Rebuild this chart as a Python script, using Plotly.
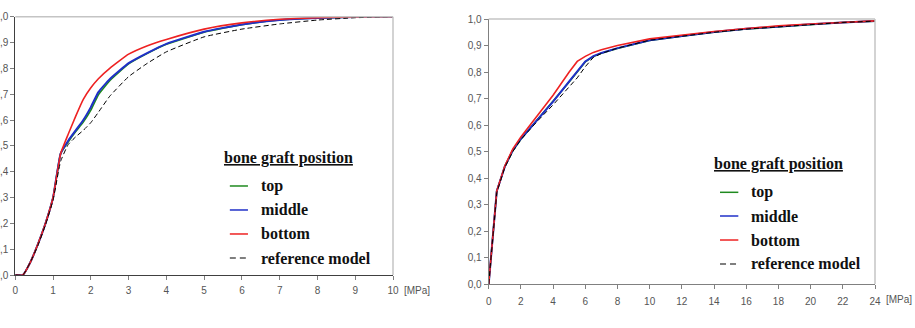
import plotly.graph_objects as go

# ---------------- data ----------------
x_left = [0, 0.2, 0.4, 0.6, 0.8, 1.0, 1.2, 1.4, 1.6, 1.8, 2.0, 2.2, 2.5, 3.0, 3.5, 4.0, 5.0, 6.0, 7.0, 8.0, 9.0, 10.0]
left_top = [0, 0, 0.05, 0.12, 0.2, 0.3, 0.47, 0.515, 0.555, 0.592, 0.638, 0.698, 0.752, 0.817, 0.858, 0.893, 0.94, 0.969, 0.987, 0.995, 0.999, 1.0]
left_middle = [0, 0, 0.05, 0.12, 0.2, 0.3, 0.47, 0.52, 0.56, 0.6, 0.65, 0.708, 0.758, 0.82, 0.86, 0.895, 0.942, 0.97, 0.987, 0.995, 0.999, 1.0]
left_bottom = [0, 0, 0.05, 0.12, 0.2, 0.3, 0.47, 0.545, 0.615, 0.68, 0.725, 0.76, 0.8, 0.855, 0.888, 0.912, 0.952, 0.976, 0.99, 0.996, 0.999, 1.0]
left_ref = [0, 0, 0.05, 0.115, 0.195, 0.29, 0.44, 0.505, 0.535, 0.56, 0.59, 0.63, 0.692, 0.768, 0.82, 0.864, 0.922, 0.952, 0.972, 0.987, 0.996, 1.0]

x_right = [0, 0.5, 1, 1.5, 2, 3, 4, 5, 5.5, 6, 6.5, 7, 8, 10, 12, 14, 16, 18, 20, 22, 24]
right_top = [0, 0.35, 0.443, 0.503, 0.546, 0.618, 0.686, 0.762, 0.8, 0.838, 0.858, 0.871, 0.889, 0.919, 0.935, 0.95, 0.962, 0.971, 0.98, 0.987, 0.992]
right_middle = [0, 0.35, 0.443, 0.505, 0.548, 0.62, 0.688, 0.765, 0.802, 0.84, 0.86, 0.872, 0.89, 0.92, 0.936, 0.951, 0.963, 0.972, 0.98, 0.987, 0.992]
right_bottom = [0, 0.35, 0.445, 0.51, 0.555, 0.632, 0.712, 0.8, 0.84, 0.859, 0.874, 0.884, 0.9, 0.925, 0.94, 0.953, 0.964, 0.974, 0.981, 0.987, 0.993]
right_ref = [0, 0.345, 0.44, 0.5, 0.545, 0.613, 0.676, 0.745, 0.778, 0.82, 0.855, 0.87, 0.89, 0.92, 0.935, 0.95, 0.962, 0.971, 0.98, 0.987, 0.992]

series_names = ["top", "middle", "bottom", "reference model"]
series_colors = ["#1f8a1f", "#2030c8", "#ee2222", "#000000"]
series_dash = ["solid", "solid", "solid", "dash"]
series_width = [1.6, 2.0, 1.6, 1.0]
legend_title = "bone graft position"
unit_label = "[MPa]"

left_sets = [left_top, left_middle, left_bottom, left_ref]
right_sets = [right_top, right_middle, right_bottom, right_ref]

# ---------------- figure ----------------
fig = go.Figure()
W, H = 915, 328

for ys, name, col, dash, w in zip(left_sets, series_names, series_colors, series_dash, series_width):
    fig.add_trace(go.Scatter(x=x_left, y=ys, mode="lines", name=name, showlegend=False,
                             line=dict(color=col, width=w, dash=dash if dash == "solid" else "5px,3px",
                                       shape="spline", smoothing=0.4),
                             xaxis="x", yaxis="y"))
for ys, name, col, dash, w in zip(right_sets, series_names, series_colors, series_dash, series_width):
    fig.add_trace(go.Scatter(x=x_right, y=ys, mode="lines", name=name, showlegend=False,
                             line=dict(color=col, width=w, dash=dash if dash == "solid" else "5px,3px"),
                             xaxis="x2", yaxis="y2"))

def px2dom(x0, x1, y0, y1):
    return [x0 / W, x1 / W], [1 - y1 / H, 1 - y0 / H]

# plot-area pixel boxes (left, right, top, bottom)
Lx, Ly = px2dom(15.3, 393, 16.7, 275)
Rx, Ry = px2dom(488.7, 875, 19, 284)

tickfont = dict(family="Liberation Sans, Arial", size=10, color="#555555")
axcommon = dict(showgrid=False, zeroline=False, ticks="outside", ticklen=4, tickcolor="#808080",
                linewidth=1, showline=True, tickfont=tickfont, automargin=False)

fig.update_layout(
    width=W, height=H, margin=dict(l=0, r=0, t=0, b=0),
    paper_bgcolor="white", plot_bgcolor="white",
    separators=", ",
    showlegend=False,
    xaxis=dict(domain=Lx, anchor="y", range=[0, 10], dtick=1, tick0=0, linecolor="#404040", **axcommon, ticklabelstandoff=2),
    yaxis=dict(domain=Ly, anchor="x", range=[0, 1.0], dtick=0.1, tick0=0, tickformat=".1f", linecolor="#404040", **axcommon),
    xaxis2=dict(domain=Rx, anchor="y2", range=[0, 24], dtick=2, tick0=0, linecolor="#808080", **axcommon, ticklabelstandoff=4),
    yaxis2=dict(domain=Ry, anchor="x2", range=[0, 1.0], dtick=0.1, tick0=0, tickformat=".1f", linecolor="#808080", **axcommon),
)

# light-gray top/right frame borders
for xr, yr in [("x domain", "y domain"), ("x2 domain", "y2 domain")]:
    fig.add_shape(type="line", xref=xr, yref=yr, x0=0, x1=1, y0=1, y1=1, line=dict(color="#c4c4c4", width=1.5))
    fig.add_shape(type="line", xref=xr, yref=yr, x0=1, x1=1, y0=0, y1=1, line=dict(color="#c4c4c4", width=1.5))

# legends drawn inside each plot
serif = dict(family="Liberation Serif, Times New Roman", size=16, color="#111111")
legend_specs = [
    dict(xr="x domain", yr="y domain", hx=0.723, hy=0.453, lx0=0.568, lx1=0.616, tx=0.645,
         iy=[0.3446, 0.2517, 0.1588, 0.0658]),
    dict(xr="x2 domain", yr="y2 domain", hx=0.749, hy=0.4517, lx0=0.5988, lx1=0.6462, tx=0.674,
         iy=[0.346, 0.2566, 0.166, 0.0755]),
]
for spec in legend_specs:
    fig.add_annotation(xref=spec["xr"], yref=spec["yr"], x=spec["hx"], y=spec["hy"],
                       text="<b><u>" + legend_title + "</u></b>", showarrow=False,
                       xanchor="center", yanchor="middle", font=serif)
    for name, col, dash, yy in zip(series_names, series_colors, series_dash, spec["iy"]):
        fig.add_shape(type="line", xref=spec["xr"], yref=spec["yr"], x0=spec["lx0"], x1=spec["lx1"],
                      y0=yy, y1=yy, line=dict(color=col, width=1.5 if dash == "solid" else 1.2,
                                               dash="solid" if dash == "solid" else "6px,4px"))
        fig.add_annotation(xref=spec["xr"], yref=spec["yr"], x=spec["tx"], y=yy,
                           text="<b>" + name + "</b>", showarrow=False,
                           xanchor="left", yanchor="middle", font=serif)

# unit labels
unitfont = dict(family="Liberation Sans, Arial", size=10, color="#555555")
fig.add_annotation(xref="paper", yref="paper", x=417 / W, y=1 - 290 / H, text=unit_label,
                   showarrow=False, xanchor="center", yanchor="middle", font=unitfont)
fig.add_annotation(xref="paper", yref="paper", x=899 / W, y=1 - 299 / H, text=unit_label,
                   showarrow=False, xanchor="center", yanchor="middle", font=unitfont)

fig.write_html("out.html")
